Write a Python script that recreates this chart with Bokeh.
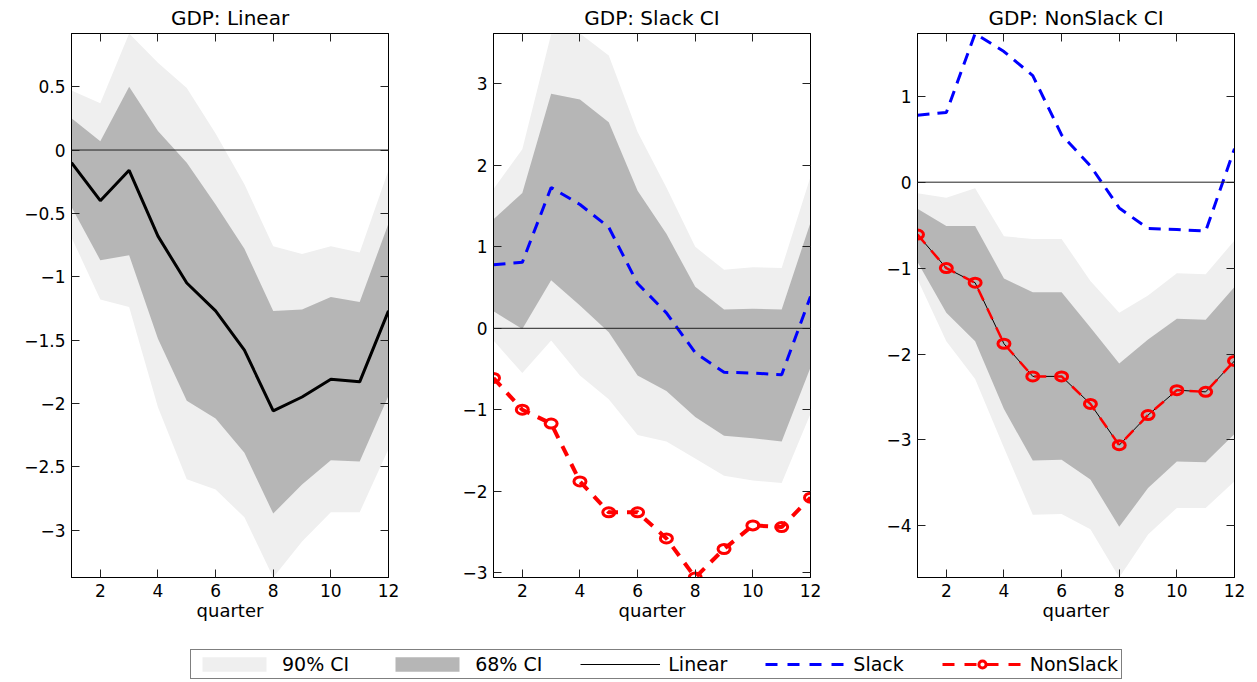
from bokeh.plotting import figure
from bokeh.models import FixedTicker, Span, Legend, LegendItem, Range1d, LinearAxis
from bokeh.layouts import row, column
from bokeh.embed import file_html
from bokeh.resources import INLINE

# ---------------- data ----------------
quarters = list(range(1, 13))
x_ticks = [2, 4, 6, 8, 10, 12]
x_labels = ["2", "4", "6", "8", "10", "12"]

# Panel 1: Linear model
lin_mid = [-0.10, -0.40, -0.16, -0.68, -1.05, -1.27, -1.58, -2.06, -1.95, -1.81, -1.83, -1.27]
lin_hi68 = [0.25, 0.07, 0.50, 0.15, -0.10, -0.43, -0.78, -1.27, -1.26, -1.16, -1.20, -0.58]
lin_lo68 = [-0.45, -0.87, -0.83, -1.49, -1.98, -2.12, -2.39, -2.87, -2.64, -2.45, -2.46, -1.94]
lin_hi90 = [0.47, 0.37, 0.92, 0.69, 0.49, 0.13, -0.27, -0.76, -0.82, -0.76, -0.81, -0.16]
lin_lo90 = [-0.69, -1.18, -1.24, -2.03, -2.60, -2.68, -2.90, -3.375, -3.09, -2.86, -2.86, -2.36]

# point estimates of the state-dependent model
slack_mid = [0.78, 0.81, 1.73, 1.52, 1.24, 0.55, 0.19, -0.30, -0.54, -0.55, -0.57, 0.39]
nonslack_mid = [-0.61, -1.00, -1.17, -1.88, -2.26, -2.26, -2.58, -3.06, -2.71, -2.42, -2.44, -2.08]

# Panel 2: Slack CI
sl_hi90 = [1.71, 2.20, 3.61, 3.62, 3.35, 2.41, 1.73, 1.00, 0.72, 0.75, 0.74, 1.86]
sl_hi68 = [1.34, 1.66, 2.88, 2.81, 2.53, 1.69, 1.16, 0.51, 0.23, 0.24, 0.23, 1.30]
sl_lo68 = [0.21, -0.01, 0.59, 0.28, -0.05, -0.58, -0.77, -1.09, -1.32, -1.35, -1.39, -0.48]
sl_lo90 = [-0.15, -0.55, -0.15, -0.58, -0.87, -1.31, -1.39, -1.60, -1.81, -1.87, -1.90, -1.05]

# Panel 3: NonSlack CI
ns_hi90 = [-0.13, -0.18, -0.07, -0.63, -0.66, -0.66, -1.15, -1.52, -1.32, -1.06, -1.07, -0.68]
ns_hi68 = [-0.31, -0.51, -0.51, -1.12, -1.28, -1.28, -1.69, -2.11, -1.83, -1.59, -1.60, -1.22]
ns_lo68 = [-0.93, -1.52, -1.85, -2.64, -3.24, -3.23, -3.46, -4.01, -3.56, -3.25, -3.26, -2.93]
ns_lo90 = [-1.13, -1.85, -2.29, -3.09, -3.87, -3.86, -4.04, -4.60, -4.10, -3.79, -3.79, -3.48]

p1_yticks = [-3, -2.5, -2, -1.5, -1, -0.5, 0, 0.5]
p1_ylabels = ["\u22123", "\u22122.5", "\u22122", "\u22121.5", "\u22121", "\u22120.5", "0", "0.5"]
p2_yticks = [-3, -2, -1, 0, 1, 2, 3]
p2_ylabels = ["\u22123", "\u22122", "\u22121", "0", "1", "2", "3"]
p3_yticks = [-4, -3, -2, -1, 0, 1]
p3_ylabels = ["\u22124", "\u22123", "\u22122", "\u22121", "0", "1"]

titles = ["GDP: Linear", "GDP: Slack CI", "GDP: NonSlack CI"]
legend_labels = ["90% CI", "68% CI", "Linear", "Slack", "NonSlack"]

# ---------------- style ----------------
FONT = "DejaVu Sans"
LIGHT = "#efefef"
DARK = "#b6b6b6"
BLUE = "#0000ff"
RED = "#ff0000"
TICK = "#222222"
ROW_H = 624


def style_axis(ax, ticks, labels, show):
    ax.ticker = FixedTicker(ticks=ticks)
    ax.major_tick_in = 8
    ax.major_tick_out = 0
    ax.minor_tick_line_color = None
    ax.axis_line_color = "black"
    ax.axis_line_width = 1
    ax.major_tick_line_color = TICK
    ax.major_tick_line_width = 1
    if show:
        ax.major_label_overrides = dict(zip(ticks, labels))
        ax.major_label_text_font = FONT
        ax.major_label_text_font_size = "17px"
        ax.major_label_text_color = "black"
        ax.major_label_standoff = 6
    else:
        # mirror axis of the box: ticks only, no labels painted
        ax.major_label_overrides = {t: "" for t in ticks}
        ax.major_label_text_color = None
        ax.major_label_text_font_size = "1px"
        ax.major_label_standoff = 0


def make_panel(title, yticks, ylabels, series, width, left, right):
    lo = min(min(s) for s in series)
    hi = max(max(s) for s in series)
    p = figure(width=width, height=ROW_H,
               x_range=Range1d(quarters[0], quarters[-1]), y_range=Range1d(lo, hi),
               toolbar_location=None, output_backend="svg",
               min_border_left=left, min_border_right=right,
               min_border_top=33, min_border_bottom=47)
    p.grid.visible = False
    p.outline_line_color = "black"
    p.background_fill_color = "white"
    p.title.text = title
    p.title.align = "center"
    p.title.text_font = FONT
    p.title.text_font_size = "20px"
    p.title.text_font_style = "normal"
    p.title.text_color = "black"
    p.title.standoff = 7

    xa = p.xaxis[0]
    style_axis(xa, x_ticks, x_labels, True)
    xa.axis_label = "quarter"
    xa.axis_label_text_font = FONT
    xa.axis_label_text_font_size = "18px"
    xa.axis_label_text_font_style = "normal"
    xa.axis_label_text_color = "black"
    xa.axis_label_standoff = 0
    style_axis(p.yaxis[0], yticks, ylabels, True)

    top = LinearAxis()
    style_axis(top, x_ticks, x_labels, False)
    p.add_layout(top, "above")
    rgt = LinearAxis()
    style_axis(rgt, yticks, ylabels, False)
    p.add_layout(rgt, "right")
    return p


def add_bands(p, lo90, hi90, lo68, hi68):
    p.varea(x=quarters, y1=lo90, y2=hi90, fill_color=LIGHT)
    p.varea(x=quarters, y1=lo68, y2=hi68, fill_color=DARK)
    p.add_layout(Span(location=0, dimension="width", line_color="#222222", line_width=1))


# Panel 1
f1 = make_panel(titles[0], p1_yticks, p1_ylabels, [lin_lo90, lin_hi90, lin_mid], 440, 71, 52)
add_bands(f1, lin_lo90, lin_hi90, lin_lo68, lin_hi68)
f1.line(quarters, lin_mid, line_color="black", line_width=3)

# Panel 2
f2 = make_panel(titles[1], p2_yticks, p2_ylabels,
                [sl_lo90, sl_hi90, slack_mid, nonslack_mid], 426, 53, 56)
add_bands(f2, sl_lo90, sl_hi90, sl_lo68, sl_hi68)
f2.line(quarters, slack_mid, line_color=BLUE, line_width=3, line_dash="12 8")
f2.line(quarters, nonslack_mid, line_color=RED, line_width=4, line_dash="11 9")
f2.ellipse(x=quarters, y=nonslack_mid, width=12, height=9, width_units="screen",
           height_units="screen", line_color=RED, line_width=3, fill_color=None)

# Panel 3
f3 = make_panel(titles[2], p3_yticks, p3_ylabels,
                [ns_lo90, ns_hi90, slack_mid, nonslack_mid], 391, 51, 23)
add_bands(f3, ns_lo90, ns_hi90, ns_lo68, ns_hi68)
f3.line(quarters, slack_mid, line_color=BLUE, line_width=3, line_dash="12 8")
f3.line(quarters, nonslack_mid, line_color="black", line_width=1)
f3.line(quarters, nonslack_mid, line_color=RED, line_width=2.5, line_dash="12 9")
f3.ellipse(x=quarters, y=nonslack_mid, width=12, height=9, width_units="screen",
           height_units="screen", line_color=RED, line_width=3, fill_color=None)

# Legend strip: the sample glyphs reuse the panel data but lie outside this strip's ranges
fl = figure(width=1257, height=682 - ROW_H, toolbar_location=None, output_backend="svg",
            x_range=Range1d(20, 21), y_range=Range1d(20, 21),
            x_axis_location=None, y_axis_location=None, min_border=0)
fl.outline_line_color = None
fl.grid.visible = False
r90 = fl.varea(x=quarters, y1=lin_lo90, y2=lin_hi90, fill_color=LIGHT)
r68 = fl.varea(x=quarters, y1=lin_lo68, y2=lin_hi68, fill_color=DARK)
rlin = fl.line(x=quarters, y=lin_mid, line_color="black", line_width=1)
rsl = fl.line(x=quarters, y=slack_mid, line_color=BLUE, line_width=3, line_dash="12 10")
rns = fl.line(x=quarters, y=nonslack_mid, line_color=RED, line_width=3, line_dash="12 10")
rnsm = fl.scatter(x=quarters, y=nonslack_mid, marker="circle", size=9, line_color=RED,
                  line_width=3, fill_color=None)
legend = Legend(items=[LegendItem(label=legend_labels[0], renderers=[r90]),
                       LegendItem(label=legend_labels[1], renderers=[r68]),
                       LegendItem(label=legend_labels[2], renderers=[rlin]),
                       LegendItem(label=legend_labels[3], renderers=[rsl]),
                       LegendItem(label=legend_labels[4], renderers=[rns, rnsm])],
                orientation="horizontal", location=(190, 3), margin=0, padding=3,
                spacing=38, glyph_width=80, glyph_height=18, label_height=18,
                label_standoff=8, label_text_font=FONT, label_text_font_size="19px",
                label_text_color="black",
                border_line_color="black", border_line_width=1,
                background_fill_color="white", background_fill_alpha=1)
fl.add_layout(legend)

layout = column(row(f1, f2, f3), fl)
open("out.html", "w").write(file_html(layout, INLINE))
